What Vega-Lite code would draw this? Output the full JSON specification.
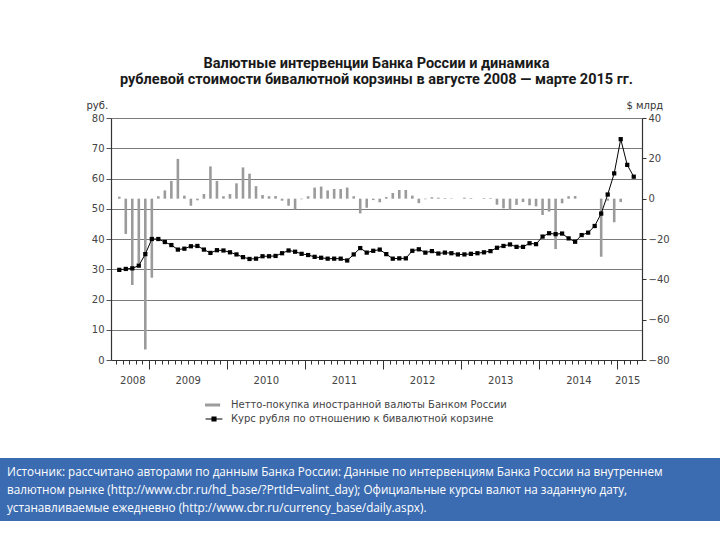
{
  "$schema": "https://vega.github.io/schema/vega-lite/v6.json",
  "background": "white",
  "padding": {"top": 55, "left": 0, "right": 0, "bottom": 0},
  "config": {
    "view": {"stroke": null},
    "font": "DejaVu Sans"
  },
  "spacing": 68,
  "vconcat": [
    {
      "spacing": 0,
      "hconcat": [
        {
          "width": 86,
          "height": 10,
          "data": {"values": []},
          "mark": "point"
        },
        {
          "width": 531,
          "height": 242,
          "title": {
            "text": ["Валютные интервенции Банка России и динамика", "рублевой стоимости бивалютной корзины в августе 2008 — марте 2015 гг."],
            "anchor": "middle",
            "font": "Roboto",
            "fontSize": 14.5,
            "fontWeight": "bold",
            "lineHeight": 16,
            "color": "#1a1a1a",
            "offset": 13
          },
          "data": {
            "values": [
              {"m":"2008-08","t":0,"rub":29.8,"usd":1.0},
              {"m":"2008-09","t":1,"rub":30.1,"usd":-17.5},
              {"m":"2008-10","t":2,"rub":30.3,"usd":-42.8},
              {"m":"2008-11","t":3,"rub":31.2,"usd":-32.0},
              {"m":"2008-12","t":4,"rub":35.0,"usd":-74.8},
              {"m":"2009-01","t":5,"rub":40.0,"usd":-39.2},
              {"m":"2009-02","t":6,"rub":40.0,"usd":1.2},
              {"m":"2009-03","t":7,"rub":39.0,"usd":4.1},
              {"m":"2009-04","t":8,"rub":38.0,"usd":8.8},
              {"m":"2009-05","t":9,"rub":36.5,"usd":19.7},
              {"m":"2009-06","t":10,"rub":36.8,"usd":1.5},
              {"m":"2009-07","t":11,"rub":37.6,"usd":-3.5},
              {"m":"2009-08","t":12,"rub":37.7,"usd":-0.8},
              {"m":"2009-09","t":13,"rub":36.5,"usd":2.3},
              {"m":"2009-10","t":14,"rub":35.4,"usd":16.0},
              {"m":"2009-11","t":15,"rub":36.3,"usd":8.8},
              {"m":"2009-12","t":16,"rub":36.2,"usd":1.2},
              {"m":"2010-01","t":17,"rub":35.6,"usd":2.3},
              {"m":"2010-02","t":18,"rub":34.9,"usd":7.6},
              {"m":"2010-03","t":19,"rub":34.0,"usd":15.5},
              {"m":"2010-04","t":20,"rub":33.4,"usd":12.4},
              {"m":"2010-05","t":21,"rub":33.5,"usd":6.2},
              {"m":"2010-06","t":22,"rub":34.3,"usd":1.8},
              {"m":"2010-07","t":23,"rub":34.3,"usd":1.2},
              {"m":"2010-08","t":24,"rub":34.4,"usd":1.3},
              {"m":"2010-09","t":25,"rub":35.3,"usd":-1.0},
              {"m":"2010-10","t":26,"rub":36.2,"usd":-3.5},
              {"m":"2010-11","t":27,"rub":35.8,"usd":-5.3},
              {"m":"2010-12","t":28,"rub":35.1,"usd":-0.3},
              {"m":"2011-01","t":29,"rub":34.7,"usd":1.2},
              {"m":"2011-02","t":30,"rub":34.1,"usd":5.5},
              {"m":"2011-03","t":31,"rub":33.8,"usd":6.0},
              {"m":"2011-04","t":32,"rub":33.5,"usd":4.1},
              {"m":"2011-05","t":33,"rub":33.5,"usd":4.8},
              {"m":"2011-06","t":34,"rub":33.5,"usd":4.8},
              {"m":"2011-07","t":35,"rub":32.9,"usd":5.5},
              {"m":"2011-08","t":36,"rub":34.9,"usd":1.2},
              {"m":"2011-09","t":37,"rub":37.0,"usd":-7.3},
              {"m":"2011-10","t":38,"rub":35.5,"usd":-4.5},
              {"m":"2011-11","t":39,"rub":36.1,"usd":-0.7},
              {"m":"2011-12","t":40,"rub":36.5,"usd":-1.8},
              {"m":"2012-01","t":41,"rub":35.0,"usd":0.8},
              {"m":"2012-02","t":42,"rub":33.5,"usd":2.8},
              {"m":"2012-03","t":43,"rub":33.6,"usd":4.3},
              {"m":"2012-04","t":44,"rub":33.6,"usd":4.3},
              {"m":"2012-05","t":45,"rub":36.1,"usd":1.5},
              {"m":"2012-06","t":46,"rub":36.6,"usd":-2.2},
              {"m":"2012-07","t":47,"rub":35.5,"usd":-0.3},
              {"m":"2012-08","t":48,"rub":36.0,"usd":0.7},
              {"m":"2012-09","t":49,"rub":35.2,"usd":0.5},
              {"m":"2012-10","t":50,"rub":35.5,"usd":0.3},
              {"m":"2012-11","t":51,"rub":35.3,"usd":0.2},
              {"m":"2012-12","t":52,"rub":34.9,"usd":0},
              {"m":"2013-01","t":53,"rub":34.9,"usd":0.5},
              {"m":"2013-02","t":54,"rub":35.1,"usd":0.3},
              {"m":"2013-03","t":55,"rub":35.3,"usd":0},
              {"m":"2013-04","t":56,"rub":35.6,"usd":0.3},
              {"m":"2013-05","t":57,"rub":36.0,"usd":0.3},
              {"m":"2013-06","t":58,"rub":37.1,"usd":-3.0},
              {"m":"2013-07","t":59,"rub":37.7,"usd":-4.8},
              {"m":"2013-08","t":60,"rub":38.2,"usd":-5.5},
              {"m":"2013-09","t":61,"rub":37.4,"usd":-3.1},
              {"m":"2013-10","t":62,"rub":37.4,"usd":-1.7},
              {"m":"2013-11","t":63,"rub":38.6,"usd":-3.3},
              {"m":"2013-12","t":64,"rub":38.3,"usd":-3.8},
              {"m":"2014-01","t":65,"rub":40.8,"usd":-8.1},
              {"m":"2014-02","t":66,"rub":41.9,"usd":-6.4},
              {"m":"2014-03","t":67,"rub":41.6,"usd":-25.0},
              {"m":"2014-04","t":68,"rub":41.8,"usd":-2.3},
              {"m":"2014-05","t":69,"rub":40.2,"usd":1.2},
              {"m":"2014-06","t":70,"rub":39.1,"usd":1.3},
              {"m":"2014-07","t":71,"rub":41.3,"usd":0},
              {"m":"2014-08","t":72,"rub":42.1,"usd":0},
              {"m":"2014-09","t":73,"rub":44.3,"usd":0},
              {"m":"2014-10","t":74,"rub":48.4,"usd":-28.8},
              {"m":"2014-11","t":75,"rub":54.7,"usd":-1.0},
              {"m":"2014-12","t":76,"rub":61.7,"usd":-11.7},
              {"m":"2015-01","t":77,"rub":73.0,"usd":-1.7},
              {"m":"2015-02","t":78,"rub":64.5,"usd":0},
              {"m":"2015-03","t":79,"rub":60.6,"usd":0}
            ]
          },
          "layer": [
            {
              "encoding": {
                "x": {
                  "field": "t", "type": "quantitative",
                  "scale": {"domain": [-0.5, 79.5], "nice": false, "zero": false},
                  "axis": {
                    "title": null,
                    "grid": false,
                    "values": [-0.5,0.5,1.5,2,2.5,3.5,4.5,5.5,6.5,7.5,8.5,9.5,10.5,11.5,12.5,13.5,14.5,15.5,16.5,17.5,18.5,19.5,20.5,21.5,22.5,23.5,24.5,25.5,26.5,27.5,28.5,29.5,30.5,31.5,32.5,33.5,34.5,35.5,36.5,37.5,38.5,39.5,40.5,41.5,42.5,43.5,44.5,45.5,46.5,47.5,48.5,49.5,50.5,51.5,52.5,53.5,54.5,55.5,56.5,57.5,58.5,59.5,60.5,61.5,62.5,63.5,64.5,65.5,66.5,67.5,68.5,69.5,70.5,71.5,72.5,73.5,74.5,75.5,76.5,77.5,78,78.5,79.5],
                    "labelExpr": "datum.value == 2 ? '2008' : datum.value == 10.5 ? '2009' : datum.value == 22.5 ? '2010' : datum.value == 34.5 ? '2011' : datum.value == 46.5 ? '2012' : datum.value == 58.5 ? '2013' : datum.value == 70.5 ? '2014' : datum.value == 78 ? '2015' : ''",
                    "labelOverlap": false,
                    "labelFlush": false,
                    "labelBound": false,
                    "labelFontSize": 10,
                    "labelColor": "#444444",
                    "labelPadding": 11,
                    "domainColor": "#333333",
                    "domainWidth": 1.2,
                    "tickColor": "#333333",
                    "tickWidth": 1,
                    "tickOpacity": {
                      "condition": {"test": "datum.value == 2 || datum.value == 78", "value": 0},
                      "value": 1
                    },
                    "tickSize": {
                      "condition": {"test": "indexof([4.5,16.5,28.5,40.5,52.5,64.5,76.5], datum.value) >= 0", "value": 9},
                      "value": 4
                    }
                  }
                }
              },
              "layer": [
                {
                  "mark": {"type": "bar", "size": 2.6, "color": "#9b9b9b"},
                  "encoding": {
                    "y": {
                      "field": "usd", "type": "quantitative",
                      "scale": {"domain": [-80, 40], "nice": false, "zero": false},
                      "axis": {
                        "orient": "right",
                        "values": [-80, -60, -40, -20, 0, 20, 40],
                        "grid": false,
                        "title": "$ млрд",
                        "titleAngle": 0,
                        "titleAlign": "left",
                        "titleBaseline": "alphabetic",
                        "titleX": -16,
                        "titleY": -10,
                        "titleFontSize": 10,
                        "titleFontWeight": "normal",
                        "titleColor": "#333333",
                        "labelFontSize": 10,
                        "labelColor": "#444444",
                        "labelPadding": 2,
                        "tickSize": 4,
                        "tickColor": "#333333",
                        "domainColor": "#333333",
                        "domainWidth": 1.2
                      }
                    }
                  }
                },
                {
                  "mark": {
                    "type": "line", "color": "#000000", "strokeWidth": 1,
                    "point": {"shape": "square", "size": 18, "filled": true, "color": "#000000"}
                  },
                  "encoding": {
                    "y": {
                      "field": "rub", "type": "quantitative",
                      "scale": {"domain": [0, 80], "nice": false},
                      "axis": {
                        "orient": "left",
                        "values": [0, 10, 20, 30, 40, 50, 60, 70, 80],
                        "grid": true,
                        "gridColor": "#7a7a7a",
                        "gridWidth": 1.1,
                        "title": "руб.",
                        "titleAngle": 0,
                        "titleAlign": "left",
                        "titleBaseline": "alphabetic",
                        "titleX": -25,
                        "titleY": -10,
                        "titleFontSize": 10,
                        "titleFontWeight": "normal",
                        "titleColor": "#333333",
                        "labelFontSize": 10,
                        "labelColor": "#444444",
                        "labelPadding": 2,
                        "tickSize": 5,
                        "tickColor": "#555555",
                        "domainColor": "#333333",
                        "domainWidth": 1.2
                      }
                    }
                  }
                }
              ],
              "resolve": {"scale": {"y": "independent"}}
            },
            {
              "data": {"values": [
                {"s": "Нетто-покупка иностранной валюты Банком России"},
                {"s": "Курс рубля по отношению к бивалютной корзине"}
              ]},
              "mark": {"type": "point", "filled": true, "opacity": 0},
              "encoding": {
                "fill": {
                  "field": "s", "type": "nominal",
                  "scale": {"domain": ["Нетто-покупка иностранной валюты Банком России", "Курс рубля по отношению к бивалютной корзине"], "range": ["#9b9b9b", "#000000"]},
                  "legend": {"orient": "none", "legendX": 205, "legendY": 278, "title": null, "symbolSize": 256, "symbolStrokeWidth": 1.1, "symbolOpacity": 1, "labelFontSize": 10, "labelColor": "#444444", "labelOffset": 8, "labelLimit": 500, "rowPadding": 0, "padding": 0}
                },
                "stroke": {
                  "field": "s", "type": "nominal",
                  "scale": {"domain": ["Нетто-покупка иностранной валюты Банком России", "Курс рубля по отношению к бивалютной корзине"], "range": ["#9b9b9b", "#000000"]},
                  "legend": {"orient": "none", "legendX": 205, "legendY": 278, "title": null, "symbolSize": 256, "symbolStrokeWidth": 1.1, "symbolOpacity": 1, "labelFontSize": 10, "labelColor": "#444444", "labelOffset": 8, "labelLimit": 500, "rowPadding": 0, "padding": 0}
                },
                "shape": {
                  "field": "s", "type": "nominal",
                  "scale": {"domain": ["Нетто-покупка иностранной валюты Банком России", "Курс рубля по отношению к бивалютной корзине"], "range": ["M-1.05,-0.12H0.7V0.12H-1.05Z", "M-1.05,0H1.05M-0.25,-0.25H0.25V0.25H-0.25Z"]},
                  "legend": {"orient": "none", "legendX": 205, "legendY": 278, "title": null, "symbolSize": 256, "symbolStrokeWidth": 1.1, "symbolOpacity": 1, "labelFontSize": 10, "labelColor": "#444444", "labelOffset": 8, "labelLimit": 500, "rowPadding": 0, "padding": 0}
                }
              }
            }
          ]
        }
      ]
    },
    {
      "width": 720,
      "height": 63,
      "view": {"fill": "#3b6cb2", "stroke": null},
      "data": {"values": [
        {"line": 1, "text": "Источник: рассчитано авторами по данным Банка России: Данные по интервенциям Банка России на внутреннем"},
        {"line": 2, "text": "валютном рынке (http://www.cbr.ru/hd_base/?PrtId=valint_day); Официальные курсы валют на заданную дату,"},
        {"line": 3, "text": "устанавливаемые ежедневно (http://www.cbr.ru/currency_base/daily.aspx)."}
      ]},
      "mark": {"type": "text", "align": "left", "baseline": "middle", "color": "#ffffff", "font": "Open Sans", "fontSize": 11.7, "dx": 7},
      "encoding": {
        "y": {"field": "line", "type": "ordinal", "axis": null, "scale": {"padding": 0.75}},
        "x": {"datum": 0, "type": "quantitative", "scale": {"domain": [0, 1]}, "axis": null},
        "text": {"field": "text"}
      }
    }
  ]
}
